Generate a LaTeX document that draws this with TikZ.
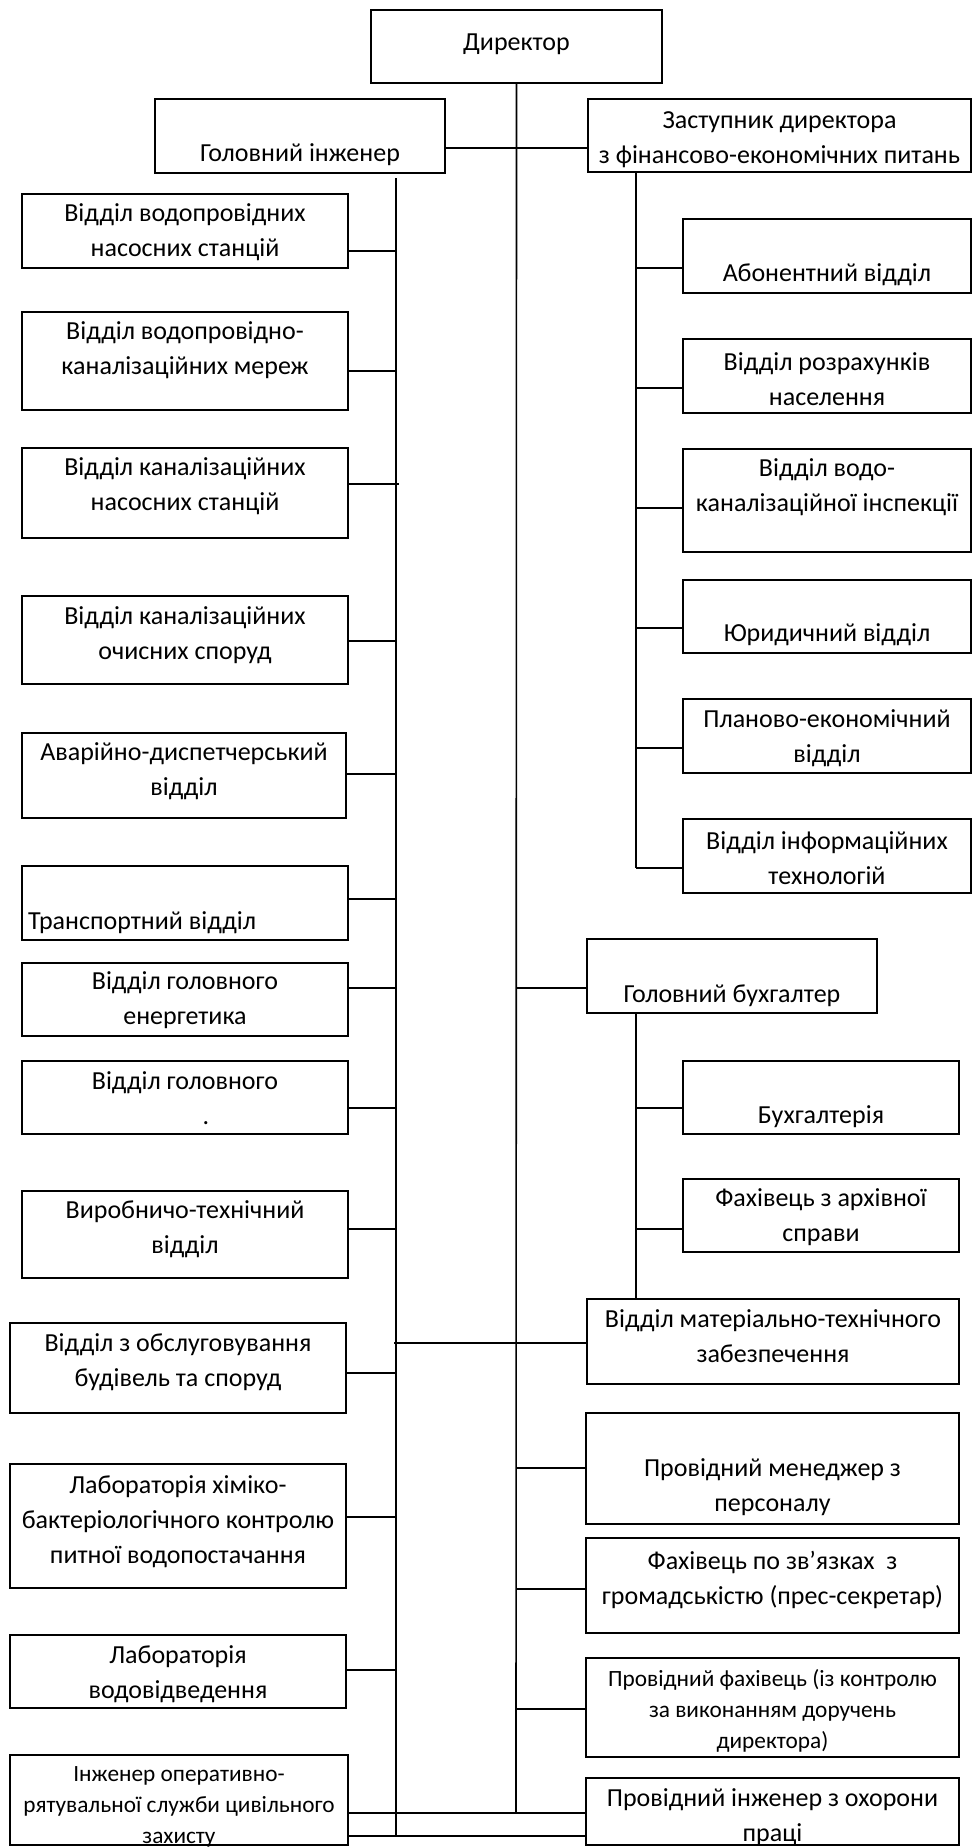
\documentclass[tikz,border=0pt]{standalone}
\usepackage{fontspec}
\setmainfont{Carlito}
\usetikzlibrary{positioning}

\begin{document}
\begin{tikzpicture}[x=1pt, y=-1pt]
	\tikzstyle{unit}=[rectangle, draw=black, line width=1.6pt, inner sep=0pt]
	\tikzstyle{txt}=[align=center, inner sep=0pt, font=\fontsize{26}{35}\selectfont]
	\tikzstyle{txts}=[align=center, inner sep=0pt, font=\fontsize{23.3}{31}\selectfont]
	\tikzstyle{link}=[line width=1.6pt]

	\useasboundingbox (0,0) rectangle (972,1847);

	% top level
	\node[unit, minimum width=291pt, minimum height=73pt] (director) at (516.5,46.5) {};
	\node[txt] (director-t) at (516.5,44) {Директор};
	\node[unit, minimum width=290pt, minimum height=74pt] (chief) at (300,136) {};
	\node[txt] (chief-t) at (300,155) {Головний інженер};
	\node[unit, minimum width=383pt, minimum height=73pt] (deputy) at (779.5,135.5) {};
	\node[txt] (deputy-t) at (779.5,140) {Заступник директора\\з фінансово-економічних питань};

	\coordinate (mainend) at (516,1813);
	\coordinate (hchief) at (516,148);
	\draw[link] (director.south) -- (mainend);
	\draw[link] (chief.east |- hchief) -- (deputy.west |- hchief);

	% chief engineer's departments
	\node[unit, minimum width=326pt, minimum height=74pt] (pumpw) at (185,231) {};
	\node[txt] (pumpw-t) at (185,232) {Відділ водопровідних\\насосних станцій};
	\node[unit, minimum width=326pt, minimum height=98pt] (netw) at (185,361) {};
	\node[txt] (netw-t) at (185,350.5) {Відділ водопровідно-\\каналізаційних мереж};
	\node[unit, minimum width=326pt, minimum height=90pt] (pumps) at (185,493) {};
	\node[txt] (pumps-t) at (185,486) {Відділ каналізаційних\\насосних станцій};
	\node[unit, minimum width=326pt, minimum height=88pt] (treat) at (185,640) {};
	\node[txt] (treat-t) at (185,635.5) {Відділ каналізаційних\\очисних споруд};
	\node[unit, minimum width=324pt, minimum height=85pt] (disp) at (184,775.5) {};
	\node[txt] (disp-t) at (184,771.5) {Аварійно-диспетчерський\\відділ};
	\node[unit, minimum width=326pt, minimum height=74pt] (transp) at (185,903) {};
	\node[txt, anchor=west] (transp-t) at (28,923) {Транспортний відділ};
	\node[unit, minimum width=326pt, minimum height=73pt] (energy) at (185,999.5) {};
	\node[txt] (energy-t) at (185,1000.5) {Відділ головного\\енергетика};
	\node[unit, minimum width=326pt, minimum height=73pt] (mech) at (185,1097.5) {};
	\node[txt] (mech-t) at (185,1098.5) {Відділ головного\\\hspace*{1.6em}.};
	\node[unit, minimum width=326pt, minimum height=87pt] (prod) at (185,1234.5) {};
	\node[txt] (prod-t) at (185,1229.5) {Виробничо-технічний\\відділ};
	\node[unit, minimum width=336pt, minimum height=90pt] (build) at (178,1368) {};
	\node[txt] (build-t) at (178,1362) {Відділ з обслуговування\\будівель та споруд};
	\node[unit, minimum width=336pt, minimum height=124pt] (labchem) at (178,1526) {};
	\node[txt] (labchem-t) at (178,1522) {Лабораторія хіміко-\\бактеріологічного контролю\\питної водопостачання};
	\node[unit, minimum width=336pt, minimum height=73pt] (labsew) at (178,1671.5) {};
	\node[txt] (labsew-t) at (178,1674) {Лабораторія\\водовідведення};
	\node[unit, minimum width=338pt, minimum height=90pt] (civil) at (179,1800) {};
	\node[txts] (civil-t) at (179,1807) {Інженер оперативно-\\рятувальної служби цивільного\\захисту};

	\coordinate (chieftop) at (396,178);
	\coordinate (chiefend) at (396,1836);
	\draw[link] (chieftop) -- (chiefend);
	\coordinate (c1) at (396,251);
	\coordinate (c2) at (396,371);
	\coordinate (c3) at (399,484);
	\coordinate (c4) at (396,641);
	\coordinate (c5) at (396,774);
	\coordinate (c6) at (396,899);
	\coordinate (c7) at (396,988);
	\coordinate (c8) at (396,1108);
	\coordinate (c9) at (396,1229);
	\coordinate (c10) at (396,1373);
	\coordinate (c11) at (396,1517);
	\coordinate (c12) at (396,1670);
	\draw[link] (pumpw.east |- c1) -- (c1);
	\draw[link] (netw.east |- c2) -- (c2);
	\draw[link] (pumps.east |- c3) -- (c3);
	\draw[link] (treat.east |- c4) -- (c4);
	\draw[link] (disp.east |- c5) -- (c5);
	\draw[link] (transp.east |- c6) -- (c6);
	\draw[link] (energy.east |- c7) -- (c7);
	\draw[link] (mech.east |- c8) -- (c8);
	\draw[link] (prod.east |- c9) -- (c9);
	\draw[link] (build.east |- c10) -- (c10);
	\draw[link] (labchem.east |- c11) -- (c11);
	\draw[link] (labsew.east |- c12) -- (c12);

	% deputy's departments
	\node[unit, minimum width=288pt, minimum height=74pt] (abon) at (827,256) {};
	\node[txt] (abon-t) at (827,275) {Абонентний відділ};
	\node[unit, minimum width=288pt, minimum height=74pt] (calc) at (827,376) {};
	\node[txt] (calc-t) at (827,379) {Відділ розрахунків\\населення};
	\node[unit, minimum width=288pt, minimum height=103pt] (insp) at (827,500.5) {};
	\node[txt] (insp-t) at (827,487.5) {Відділ водо-\\каналізаційної інспекції};
	\node[unit, minimum width=288pt, minimum height=73pt] (legal) at (827,616.5) {};
	\node[txt] (legal-t) at (827,635) {Юридичний відділ};
	\node[unit, minimum width=288pt, minimum height=74pt] (plan) at (827,736) {};
	\node[txt] (plan-t) at (827,738.5) {Планово-економічний\\відділ};
	\node[unit, minimum width=288pt, minimum height=74pt] (it) at (827,856) {};
	\node[txt] (it-t) at (827,858.5) {Відділ інформаційних\\технологій};

	\coordinate (deptop) at (636,172);
	\coordinate (d1) at (636,268);
	\coordinate (d2) at (636,388);
	\coordinate (d3) at (636,508);
	\coordinate (d4) at (636,628);
	\coordinate (d5) at (636,748);
	\coordinate (d6) at (636,868);
	\draw[link] (deptop) -- (d6);
	\draw[link] (d1) -- (d1 -| abon.west);
	\draw[link] (d2) -- (d2 -| calc.west);
	\draw[link] (d3) -- (d3 -| insp.west);
	\draw[link] (d4) -- (d4 -| legal.west);
	\draw[link] (d5) -- (d5 -| plan.west);
	\draw[link] (d6) -- (d6 -| it.west);

	% chief accountant
	\node[unit, minimum width=290pt, minimum height=74pt] (acc) at (732,976) {};
	\node[txt] (acc-t) at (732,996) {Головний бухгалтер};
	\node[unit, minimum width=276pt, minimum height=73pt] (buh) at (821,1097.5) {};
	\node[txt] (buh-t) at (821,1117) {Бухгалтерія};
	\node[unit, minimum width=276pt, minimum height=73pt] (archive) at (821,1215.5) {};
	\node[txt] (archive-t) at (821,1217) {Фахівець з архівної\\справи};
	\node[unit, minimum width=372pt, minimum height=85pt] (supply) at (773,1341.5) {};
	\node[txt] (supply-t) at (773,1336.5) {Відділ матеріально-технічного\\забезпечення};

	\coordinate (m1) at (516,988);
	\coordinate (acctop) at (636,1013);
	\coordinate (a1) at (636,1108);
	\coordinate (a2) at (636,1229);
	\coordinate (s1) at (394,1343);
	\draw[link] (m1) -- (m1 -| acc.west);
	\draw[link] (acctop) -- (acctop |- supply.north);
	\draw[link] (a1) -- (a1 -| buh.west);
	\draw[link] (a2) -- (a2 -| archive.west);
	\draw[link] (s1) -- (s1 -| supply.west);

	% under the director
	\node[unit, minimum width=373pt, minimum height=111pt] (hr) at (772.5,1468.5) {};
	\node[txt] (hr-t) at (772.5,1487.5) {Провідний менеджер з\\персоналу};
	\node[unit, minimum width=373pt, minimum height=95pt] (press) at (772.5,1585.5) {};
	\node[txt] (press-t) at (772.5,1580) {Фахівець по зв’язках\ \ з\\громадськістю (прес-секретар)};
	\node[unit, minimum width=373pt, minimum height=99pt] (control) at (772.5,1707.5) {};
	\node[txts] (control-t) at (772.5,1711) {Провідний фахівець (із контролю\\за виконанням доручень\\директора)};
	\node[unit, minimum width=373pt, minimum height=67pt] (safety) at (772.5,1811.5) {};
	\node[txt] (safety-t) at (772.5,1817.5) {Провідний інженер з охорони\\праці};

	\coordinate (m2) at (516,1468);
	\coordinate (m3) at (516,1589);
	\coordinate (m4) at (516,1709);
	\draw[link] (m2) -- (m2 -| hr.west);
	\draw[link] (m3) -- (m3 -| press.west);
	\draw[link] (m4) -- (m4 -| control.west);
	\draw[link] (civil.east |- mainend) -- (safety.west |- mainend);
	\draw[link] (civil.east |- chiefend) -- (safety.west |- chiefend);
\end{tikzpicture}
\end{document}
